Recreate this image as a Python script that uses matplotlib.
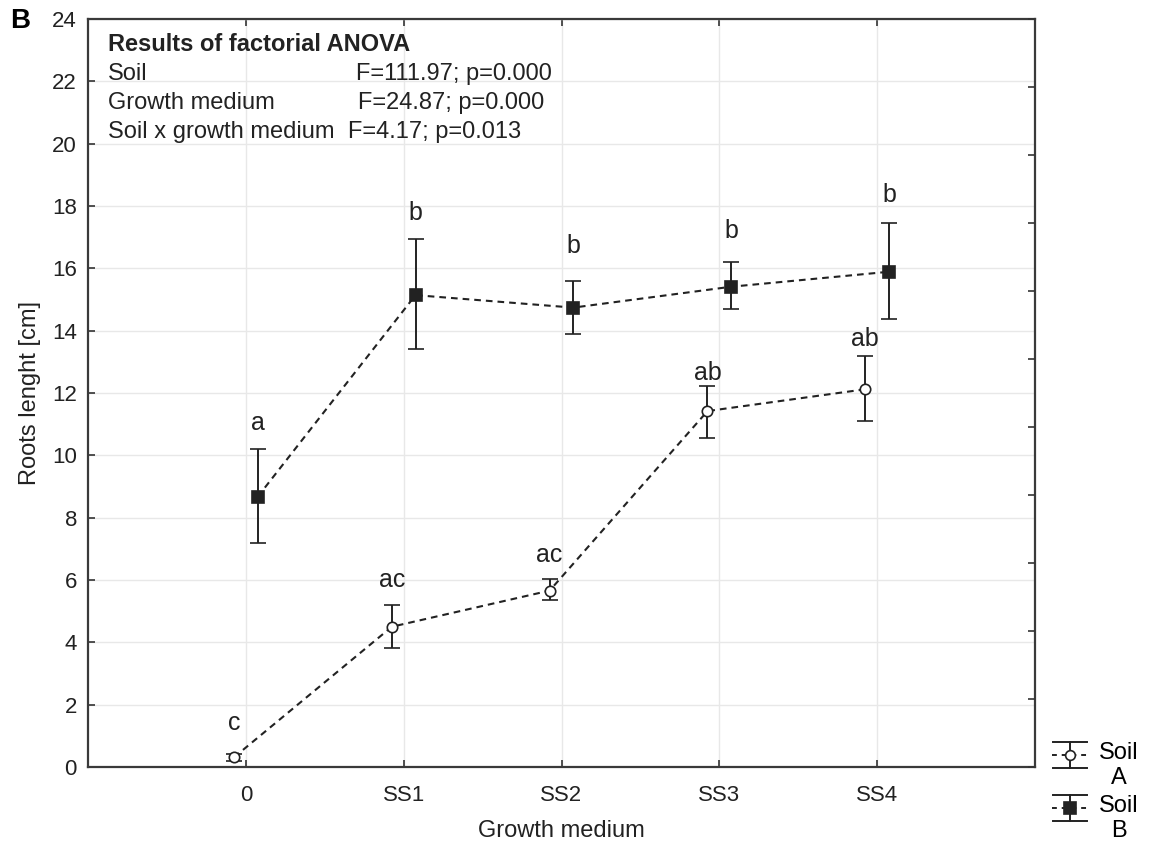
import matplotlib
matplotlib.use("Agg")
import matplotlib.pyplot as plt
from matplotlib.legend_handler import HandlerBase
from matplotlib.lines import Line2D
import numpy as np

plt.rcParams['font.family'] = ['Liberation Sans', 'DejaVu Sans']

categories = ["0", "SS1", "SS2", "SS3", "SS4"]

soilA_mean = [0.31, 4.50, 5.66, 11.42, 12.12]
soilA_low = [0.20, 3.83, 5.36, 10.57, 11.09]
soilA_high = [0.42, 5.20, 6.02, 12.23, 13.19]
soilA_letters = ["c", "ac", "ac", "ab", "ab"]
soilA_letter_y = [1.19, 5.78, 6.59, 12.42, 13.50]

soilB_mean = [8.67, 15.14, 14.74, 15.41, 15.89]
soilB_low = [7.20, 13.40, 13.88, 14.69, 14.36]
soilB_high = [10.20, 16.93, 15.60, 16.21, 17.47]
soilB_letters = ["a", "b", "b", "b", "b"]
soilB_letter_y = [10.81, 17.55, 16.50, 16.96, 18.14]

anova_rows = ["Soil", "Growth medium", "Soil x growth medium"]
anova_stats = ["F=111.97; p=0.000", "F=24.87; p=0.000", "F=4.17; p=0.013"]

W, H = 1155, 852
fig = plt.figure(figsize=(W / 100, H / 100), dpi=100)
ax = fig.add_axes([88 / W, 1 - 767 / H, (1035 - 88) / W, (767 - 19) / H])

x = np.arange(len(categories))
off = 0.075
dark = "#222222"
DASH = (0, (3.2, 2.4))

def plot_series(mean, low, high, xs, marker, mfc, ms, label):
    mean = np.array(mean); low = np.array(low); high = np.array(high)
    yerr = np.vstack([mean - low, high - mean])
    c = ax.errorbar(xs, mean, yerr=yerr, fmt=marker, mfc=mfc, mec=dark,
                    ms=ms, mew=1.2, color=dark, ecolor=dark, elinewidth=1.4,
                    capsize=5.5, capthick=1.4, ls=DASH, lw=1.5,
                    label=label, zorder=3)
    return c

hA = plot_series(soilA_mean, soilA_low, soilA_high, x - off, "o", "white", 7.5, "Soil\nA")
hB = plot_series(soilB_mean, soilB_low, soilB_high, x + off, "s", dark, 9, "Soil\nB")

for xi, ly, t in zip(x - off, soilA_letter_y, soilA_letters):
    ax.text(xi, ly, t, ha="center", va="baseline", fontsize=18, color=dark)
for xi, ly, t in zip(x + off, soilB_letter_y, soilB_letters):
    ax.text(xi, ly, t, ha="center", va="baseline", fontsize=18, color=dark)

ax.set_xlim(-1, 5)
ax.set_ylim(0, 24)
ax.set_xticks(x)
ax.set_xticklabels(categories)
ax.set_yticks(np.arange(0, 25, 2))
ax.grid(True, color="#e8e8e8", lw=1.0, zorder=0)
ax.set_axisbelow(True)

ax.tick_params(axis="both", direction="in", length=5, width=1.2, color="#333333",
               labelsize=16, labelcolor=dark)
ax.tick_params(axis="x", pad=13, top=True)
ax.tick_params(axis="y", pad=8)
for s in ax.spines.values():
    s.set_color("#3a3a3a")
    s.set_linewidth(1.6)

ax2 = ax.twinx()
ax2.set_ylim(0, 24)
ax2.set_yticks(np.linspace(0, 24, 12))
ax2.tick_params(axis="y", direction="in", length=5, width=1.2, color="#333333",
                labelright=False)
for s in ax2.spines.values():
    s.set_visible(False)

ax.set_xlabel("Growth medium", fontsize=17, color=dark, labelpad=10)
ax.set_ylabel("Roots lenght [cm]", fontsize=17, color=dark, labelpad=8)

ax.text(0.021, 0.966, "Results of factorial ANOVA", transform=ax.transAxes,
        fontsize=17, fontweight="bold", va="center", ha="left", color=dark)
row_y = [0.927, 0.888, 0.849]
stat_x = [0.283, 0.285, 0.2745]
for ry, sx, r, s in zip(row_y, stat_x, anova_rows, anova_stats):
    ax.text(0.021, ry, r, transform=ax.transAxes, fontsize=17, va="center",
            ha="left", color=dark)
    ax.text(sx, ry, s, transform=ax.transAxes, fontsize=17, va="center",
            ha="left", color=dark)

fig.text(10 / W, 1 - 8 / H, "B", fontsize=20, fontweight="bold", va="top",
         ha="left", color="black")


class ErrHandler(HandlerBase):
    def __init__(self, marker, mfc, ms, **kw):
        super().__init__(**kw)
        self.marker, self.mfc, self.ms = marker, mfc, ms

    def create_artists(self, legend, orig_handle, xdescent, ydescent, width,
                       height, fontsize, trans):
        x0 = -xdescent
        x1 = x0 + width
        xc = (x0 + x1) / 2
        yc = -ydescent + height * 0.80
        half = fontsize * 0.55
        arts = [
            Line2D([x0 + 1, x1 - 1], [yc + half] * 2, color=dark, lw=1.4),
            Line2D([x0 + 1, x1 - 1], [yc - half] * 2, color=dark, lw=1.4),
            Line2D([xc, xc], [yc - half, yc + half], color=dark, lw=1.4),
            Line2D([x0, x1], [yc, yc], color=dark, lw=1.4, ls=(0, (2.5, 2.5))),
            Line2D([xc], [yc], marker=self.marker, mfc=self.mfc, mec=dark,
                   ms=self.ms, mew=1.2, ls="none"),
        ]
        for a in arts:
            a.set_transform(trans)
        return arts


leg = fig.legend(handles=[hA, hB], loc="upper left",
                 bbox_to_anchor=(1052 / W, 1 - 742 / H), frameon=False,
                 fontsize=17, handlelength=1.55, handleheight=2.2,
                 handletextpad=0.45, labelspacing=0.23, borderaxespad=0,
                 borderpad=0,
                 handler_map={hA: ErrHandler("o", "white", 7),
                              hB: ErrHandler("s", dark, 8.5)})
for t in leg.get_texts():
    t.set_multialignment("center")

fig.savefig("out.png", dpi=100, facecolor="white")
